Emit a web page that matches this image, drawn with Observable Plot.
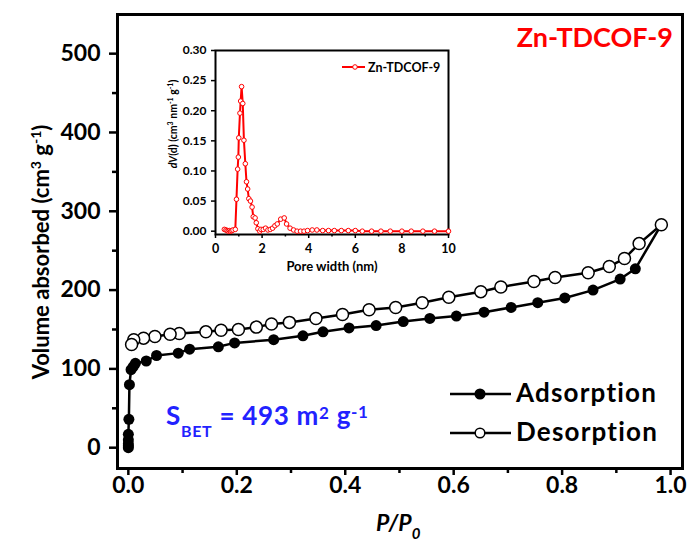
<!DOCTYPE html>
<html><head><meta charset="utf-8">
<script src="https://cdn.jsdelivr.net/npm/d3@7"></script>
<script src="https://cdn.jsdelivr.net/npm/@observablehq/plot@0.6"></script>
<style>
body{margin:0;background:#fff;}
#wrap{position:relative;width:696px;height:545px;font-family:Lato,"Open Sans",sans-serif;}
#wrap svg{position:absolute;overflow:visible;background:transparent;}
</style></head><body><div id="wrap"></div>
<script>
// Adsorption branch (P/P0, volume cm3/g)
const adsP = [0.000,0.000,0.000,0.000,0.000,0.001,0.002,0.005,0.009,0.013,0.033,0.052,0.092,0.113,0.166,0.196,0.268,0.322,0.359,0.407,0.457,0.507,0.556,0.605,0.656,0.706,0.755,0.805,0.857,0.907,0.935,0.983];
const adsV = [0,2,5,10,17,36,80,99,103,107,110,117,120,125,128,133,137,142,147,152,155,160,164,167,172,178,184,190,200,214,227,283];
// Desorption branch
const desP = [0.983,0.942,0.915,0.887,0.848,0.787,0.748,0.687,0.650,0.591,0.542,0.493,0.444,0.395,0.346,0.297,0.264,0.236,0.203,0.171,0.143,0.094,0.077,0.049,0.028,0.010,0.006];
const desV = [283,259,240,230,222,216,211,204,198,191,184,178,175,169,164,159,157,153,150,149,147,145,144,141,139,137,131];
// Pore size distribution (inset)
const poreW = [0.38,0.45,0.5,0.55,0.6,0.65,0.7,0.75,0.85,0.9,0.95,0.98,1.0,1.05,1.08,1.12,1.17,1.22,1.28,1.33,1.38,1.43,1.5,1.57,1.62,1.7,1.75,1.82,1.9,1.95,2.05,2.15,2.25,2.35,2.45,2.55,2.65,2.8,2.95,3.05,3.2,3.35,3.5,3.65,3.8,3.95,4.15,4.35,4.6,4.85,5.1,5.4,5.7,6.0,6.3,6.7,7.1,7.5,8.0,8.4,8.9,9.4,10.0];
const poreDV = [0.003,0.002,0.001,0.000,0.001,0.000,0.001,0.002,0.003,0.053,0.103,0.123,0.155,0.196,0.216,0.240,0.212,0.151,0.112,0.082,0.070,0.054,0.050,0.040,0.024,0.022,0.014,0.004,0.000,0.003,0.003,0.005,0.002,0.003,0.005,0.009,0.012,0.020,0.022,0.012,0.005,0.002,0.000,0.000,0.000,0.001,0.002,0.002,0.001,0.001,0.001,0.001,0.001,0.001,0.000,0.000,0.000,0.000,0.000,0.000,0.000,0.000,0.000];
// Ticks
const xMajor = [0,0.2,0.4,0.6,0.8,1.0];
const xMinor = [0.1,0.3,0.5,0.7,0.9];
const yMajor = [0,100,200,300,400,500];
const yMinor = [50,150,250,350,450];
const ixMajor = [0,2,4,6,8,10];
const ixMinor = [1,3,5,7,9];
const iyMajor = [0,0.05,0.10,0.15,0.20,0.25,0.30];
// Texts
const seriesNames = ["Adsorption","Desorption"];
const sampleName = "Zn-TDCOF-9";

const ads = adsP.map((p,i)=>({p, v: adsV[i]}));
const des = desP.map((p,i)=>({p, v: desV[i]}));
const pore = poreW.map((w,i)=>({w, d: poreDV[i]}));

const FONT = "Lato, 'Open Sans', sans-serif";
const wrap = document.getElementById("wrap");

const main = Plot.plot({
  width:696, height:545, marginLeft:117, marginRight:14, marginTop:14, marginBottom:77,
  style:{background:"transparent", fontFamily:FONT, color:"#000", overflow:"visible"},
  x:{domain:[-0.02,1.022]}, y:{domain:[-26.4,549.7]},
  marks:[
    Plot.axisX(xMajor,{tickFormat:d3.format(".1f"), tickSize:7, strokeWidth:2.5, tickPadding:1, label:null, fontSize:23, fontWeight:"bold"}),
    Plot.axisX(xMinor,{tickFormat:()=>"", tickSize:5, strokeWidth:2.5, label:null}),
    Plot.axisY(yMajor,{tickFormat:d3.format("d"), tickSize:8, strokeWidth:2.5, tickPadding:9, label:null, fontSize:23, fontWeight:"bold"}),
    Plot.axisY(yMinor,{tickFormat:()=>"", tickSize:5, strokeWidth:2.5, label:null}),
    Plot.frame({stroke:"#000", strokeWidth:3}),
    Plot.line(ads,{x:"p", y:"v", stroke:"#000", strokeWidth:2.5}),
    Plot.line(des,{x:"p", y:"v", stroke:"#000", strokeWidth:2.5}),
    Plot.dot(ads,{x:"p", y:"v", r:5.5, fill:"#000"}),
    Plot.dot(des,{x:"p", y:"v", r:6, fill:"#fff", stroke:"#000", strokeWidth:1.5})
  ]
});
main.style.left="0px"; main.style.top="0px";
wrap.appendChild(main);

const s = d3.select(main);
function txt(sel, x, y, size, anchor){
  return sel.append("text").attr("x",x).attr("y",y).attr("text-anchor",anchor||"start")
    .attr("font-family",FONT).attr("font-weight","bold").attr("font-size",size).attr("fill","#000");
}
// Y axis title
const yt = s.append("text").attr("transform","translate(49,252) rotate(-90)")
  .attr("text-anchor","middle").attr("font-family",FONT).attr("font-weight","bold").attr("font-size",22).attr("fill","#000");
yt.append("tspan").text("Volume absorbed (cm");
yt.append("tspan").attr("font-size",14).attr("dy",-8).text("3");
yt.append("tspan").attr("dy",8).text(" g");
yt.append("tspan").attr("font-size",14).attr("dy",-8).text("-1");
yt.append("tspan").attr("dy",8).text(")");
// X axis title
const xt = txt(s,376,531,23).attr("font-style","italic");
xt.append("tspan").text("P/P");
xt.append("tspan").attr("font-size",15).attr("dy",8).text("0");
// Title
txt(s,673,47,27,"end").attr("fill","#ff0000").text(sampleName);
// SBET annotation
const sb = txt(s,166,425,26).attr("fill","#2222ff").attr("letter-spacing",0.7);
sb.append("tspan").text("S");
sb.append("tspan").attr("font-size",16).attr("dy",12).text("BET");
sb.append("tspan").attr("dy",-12).text(" = 493 m");
sb.append("tspan").attr("font-size",17).attr("dy",-6).text("2");
sb.append("tspan").attr("dy",6).text(" g");
sb.append("tspan").attr("font-size",17).attr("dy",-7).text("-1");
// Legend
const legY = [394, 433];
const legFill = ["#000", "#fff"];
seriesNames.forEach((name,i)=>{
  s.append("line").attr("x1",450).attr("x2",511).attr("y1",legY[i]).attr("y2",legY[i]).attr("stroke","#000").attr("stroke-width",2.5);
  s.append("circle").attr("cx",480).attr("cy",legY[i]).attr("r",4.8).attr("fill",legFill[i]).attr("stroke","#000").attr("stroke-width",1.5);
  txt(s,516,legY[i]+8,26).attr("letter-spacing",1.2).text(name);
});

// Inset
const inset = Plot.plot({
  width:300, height:264, marginLeft:55, marginRight:12, marginTop:20, marginBottom:60,
  style:{background:"transparent", fontFamily:FONT, color:"#000", overflow:"visible"},
  x:{domain:[0,10]}, y:{domain:[-0.0055,0.30]},
  marks:[
    Plot.axisX(ixMajor,{tickFormat:d3.format("d"), tickSize:4, strokeWidth:1.5, tickPadding:6, label:null, fontSize:12.5, fontWeight:"bold"}),
    Plot.axisX(ixMinor,{tickFormat:()=>"", tickSize:2.5, strokeWidth:1.5, label:null}),
    Plot.axisY(iyMajor,{tickFormat:d3.format(".2f"), tickSize:4, strokeWidth:1.5, tickPadding:5, label:null, fontSize:12, fontWeight:"bold"}),
    Plot.frame({stroke:"#000", strokeWidth:2}),
    Plot.line(pore,{x:"w", y:"d", stroke:"#ff0000", strokeWidth:2}),
    Plot.dot(pore,{x:"w", y:"d", r:2.3, fill:"#fff", stroke:"#ff0000", strokeWidth:1})
  ]
});
inset.style.left="160px"; inset.style.top="30px";
wrap.appendChild(inset);
const si = d3.select(inset);
txt(si,172,241,13,"middle").text("Pore width (nm)");
const iyt = si.append("text").attr("transform","translate(17,94) rotate(-90)").attr("text-anchor","middle")
  .attr("font-family",FONT).attr("font-weight","bold").attr("font-size",10.5).attr("fill","#000");
iyt.append("tspan").attr("font-style","italic").text("dV");
iyt.append("tspan").text("(d) (cm");
iyt.append("tspan").attr("font-size",7).attr("dy",-4).text("3");
iyt.append("tspan").attr("dy",4).text(" nm");
iyt.append("tspan").attr("font-size",7).attr("dy",-4).text("-1");
iyt.append("tspan").attr("dy",4).text(" g");
iyt.append("tspan").attr("font-size",7).attr("dy",-4).text("-1");
iyt.append("tspan").attr("dy",4).text(")");
si.append("line").attr("x1",182).attr("x2",205).attr("y1",37).attr("y2",37).attr("stroke","#ff0000").attr("stroke-width",2);
si.append("circle").attr("cx",195).attr("cy",37).attr("r",2.3).attr("fill","#fff").attr("stroke","#ff0000").attr("stroke-width",1);
txt(si,208,41.5,12.5).text(sampleName);
</script></body></html>
